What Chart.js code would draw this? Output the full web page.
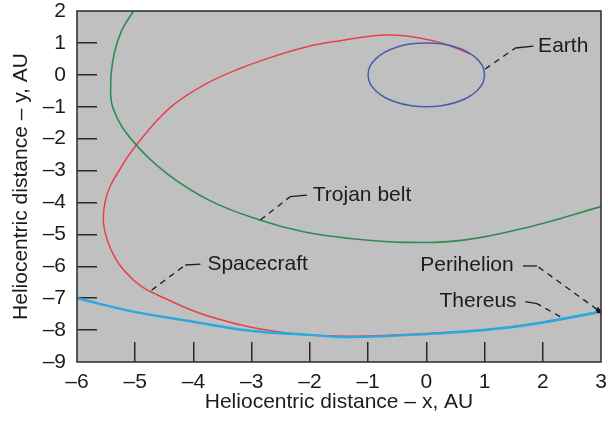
<!DOCTYPE html>
<html>
<head>
<meta charset="utf-8">
<script src="https://cdn.jsdelivr.net/npm/chart.js@4.4.0/dist/chart.umd.min.js"></script>
<style>
  html, body { margin: 0; padding: 0; background: #fff; }
  #wrap { position: relative; width: 608px; height: 423px; }
</style>
</head>
<body>
<div id="wrap"><canvas id="orbit-chart" width="608" height="423"></canvas></div>
<script>
// axis ticks
const xTicks = [-6, -5, -4, -3, -2, -1, 0, 1, 2, 3];
const yTicks = [2, 1, 0, -1, -2, -3, -4, -5, -6, -7, -8, -9];

// Earth orbit
const earthX = [1.0, 0.97, 0.87, 0.71, 0.5, 0.26, 0.0, -0.26, -0.5, -0.71, -0.87, -0.97, -1.0,
                -0.97, -0.87, -0.71, -0.5, -0.26, 0.0, 0.26, 0.5, 0.71, 0.87, 0.97, 1.0];
const earthY = [0.0, 0.26, 0.5, 0.71, 0.87, 0.97, 1.0, 0.97, 0.87, 0.71, 0.5, 0.26, 0.0,
                -0.26, -0.5, -0.71, -0.87, -0.97, -1.0, -0.97, -0.87, -0.71, -0.5, -0.26, 0.0];

// Trojan belt
const trojanX = [-5.03, -5.23, -5.36, -5.42, -5.37, -5.03, -4.46, -3.71, -2.86, -2.11, -1.31,
                 -0.4, 0.64, 1.78, 3.0];
const trojanY = [2.0, 1.40, 0.67, -0.25, -1.10, -2.10, -3.09, -3.95, -4.55, -4.92, -5.13,
                 -5.25, -5.18, -4.76, -4.13];

// Spacecraft trajectory
const craftX = [0.75, 0.52, 0.18, -0.34, -0.8, -1.48, -2.05, -2.63, -3.20, -3.77, -4.35,
                -4.77, -5.20, -5.52, -5.46, -5.03, -4.40, -3.71, -2.56, -1.36, 0.07, 1.21,
                2.07, 2.93];
const craftY = [0.66, 0.83, 1.04, 1.22, 1.24, 1.07, 0.88, 0.57, 0.20, -0.27, -0.95,
                -1.73, -2.77, -4.01, -5.28, -6.43, -7.08, -7.58, -8.05, -8.19, -8.10, -7.95,
                -7.74, -7.45];

// Thereus orbit
const thereusX = [-6.0, -5.03, -4.0, -3.03, -2.0, -1.36, 0.07, 1.21, 2.07, 2.93];
const thereusY = [-7.0, -7.42, -7.74, -8.02, -8.15, -8.22, -8.12, -7.96, -7.74, -7.45];
const thereusTailX = [2.07, 2.93];
const thereusTailY = [-7.74, -7.45];

// perihelion marker
const periX = [2.95];
const periY = [-7.40];

const pts = (xs, ys) => xs.map((x, i) => ({ x: x, y: ys[i] }));
const dash = v => (v < 0 ? "\u2013" + Math.abs(v) : String(v));

const FONT = "'Liberation Sans', Arial, sans-serif";
const INK = "#1c1c1c";

// label callouts: point on curve, corner, end of the short solid bit, text
const callouts = [
  { text: "Earth",       path: [[1.01, 0.18], [1.53, 0.84], [1.84, 0.90]], tx: 1.92, ty: 0.90, align: "left" },
  { text: "Trojan belt", path: [[-2.85, -4.55], [-2.34, -3.82], [-2.05, -3.77]], tx: -1.95, ty: -3.77, align: "left" },
  { text: "Spacecraft",  path: [[-4.72, -6.75], [-4.14, -5.96], [-3.88, -5.93]], tx: -3.76, ty: -5.95, align: "left" },
  { text: "Perihelion",  path: [[2.93, -7.35], [1.90, -5.99], [1.66, -5.99]], tx: 1.50, ty: -5.96, align: "right" },
  { text: "Thereus",     path: [[2.30, -7.58], [1.90, -7.17], [1.70, -7.11]], tx: 1.55, ty: -7.11, align: "right" }
];

const plotFrame = {
  id: "plotFrame",
  beforeDraw(chart) {
    const { ctx, chartArea: a } = chart;
    ctx.save();
    ctx.fillStyle = "#c0c0c0";
    ctx.fillRect(a.left, a.top, a.right - a.left, a.bottom - a.top);
    ctx.restore();
  },
  afterDraw(chart) {
    const { ctx, chartArea: a, scales } = chart;
    const sx = scales.x, sy = scales.y;
    ctx.save();
    // callouts
    ctx.strokeStyle = INK;
    ctx.lineWidth = 1.3;
    ctx.fillStyle = INK;
    ctx.font = "21px " + FONT;
    ctx.textBaseline = "middle";
    callouts.forEach(c => {
      const p = c.path.map(q => [sx.getPixelForValue(q[0]), sy.getPixelForValue(q[1])]);
      ctx.setLineDash([6, 5]);
      ctx.beginPath();
      ctx.moveTo(p[0][0], p[0][1]);
      ctx.lineTo(p[1][0], p[1][1]);
      ctx.stroke();
      ctx.setLineDash([]);
      ctx.beginPath();
      ctx.moveTo(p[1][0], p[1][1]);
      ctx.lineTo(p[2][0], p[2][1]);
      ctx.stroke();
      ctx.textAlign = c.align;
      ctx.fillText(c.text, sx.getPixelForValue(c.tx), sy.getPixelForValue(c.ty));
    });
    // frame
    ctx.strokeStyle = "#2a2a2a";
    ctx.lineWidth = 1.5;
    ctx.strokeRect(a.left, a.top, a.right - a.left, a.bottom - a.top);
    ctx.restore();
  }
};

const innerTick = (edges) => ctx => {
  const v = ctx.tick ? ctx.tick.value : null;
  return edges.includes(v) ? "rgba(0,0,0,0)" : "#2a2a2a";
};

const noPad = s => {
  s.paddingTop = 0;
  s.paddingBottom = 0;
  s.paddingLeft = 0;
  s.paddingRight = 0;
};

const lineSet = (label, data, color, width) => ({
  label: label,
  data: data,
  showLine: true,
  borderColor: color,
  borderWidth: width,
  pointRadius: 0,
  tension: 0.4,
  fill: false
});

new Chart(document.getElementById("orbit-chart"), {
  type: "scatter",
  data: {
    datasets: [
      lineSet("Earth", pts(earthX, earthY), "#4a5cb0", 1.5),
      lineSet("Trojan belt", pts(trojanX, trojanY), "#2e8a52", 1.6),
      lineSet("Thereus", pts(thereusX, thereusY), "#2aa8e0", 2.4),
      lineSet("Spacecraft", pts(craftX, craftY), "#e8404c", 1.5),
      lineSet("Thereus tail", pts(thereusTailX, thereusTailY), "#2aa8e0", 2.4),
      {
        label: "Perihelion",
        data: pts(periX, periY),
        pointStyle: "triangle",
        pointRadius: 3.5,
        backgroundColor: "#111",
        borderColor: "#111",
        borderWidth: 1
      }
    ]
  },
  options: {
    responsive: false,
    animation: false,
    devicePixelRatio: 1,
    layout: { padding: { top: 11, right: 7, left: 0, bottom: 0 } },
    plugins: {
      legend: { display: false },
      tooltip: { enabled: false }
    },
    scales: {
      x: {
        type: "linear",
        min: -6,
        max: 3,
        afterBuildTicks: s => { s.ticks = xTicks.map(v => ({ value: v })); },
        afterFit: s => { s.height = 61; noPad(s); },
        border: { display: false },
        grid: {
          drawOnChartArea: false,
          drawTicks: true,
          tickLength: -20,
          lineWidth: 1.5,
          color: innerTick([-6, 3])
        },
        ticks: {
          padding: 28,
          maxRotation: 0,
          autoSkip: false,
          color: INK,
          font: { family: FONT, size: 21 },
          callback: v => dash(v)
        },
        title: {
          display: true,
          text: "Heliocentric distance \u2013 x, AU",
          color: INK,
          font: { family: FONT, size: 21 },
          padding: { top: 0, bottom: 8 }
        }
      },
      y: {
        type: "linear",
        min: -9,
        max: 2,
        afterBuildTicks: s => { s.ticks = yTicks.map(v => ({ value: v })); },
        afterFit: s => { s.width = 77; noPad(s); },
        border: { display: false },
        grid: {
          drawOnChartArea: false,
          drawTicks: true,
          tickLength: -20,
          lineWidth: 1.5,
          color: innerTick([2, -9])
        },
        ticks: {
          padding: 31,
          autoSkip: false,
          color: INK,
          font: { family: FONT, size: 21 },
          callback: v => dash(v)
        },
        title: {
          display: true,
          text: "Heliocentric distance \u2013 y, AU",
          color: INK,
          font: { family: FONT, size: 21 },
          padding: { top: 9, bottom: 0 }
        }
      }
    }
  },
  plugins: [plotFrame]
});
</script>
</body>
</html>
